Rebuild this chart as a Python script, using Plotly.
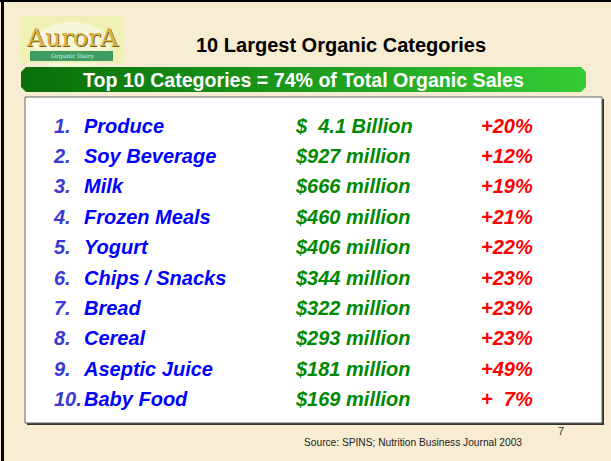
import plotly.graph_objects as go

# table data
ranks = ["1.", "2.", "3.", "4.", "5.", "6.", "7.", "8.", "9.", "10."]
categories = ["Produce", "Soy Beverage", "Milk", "Frozen Meals", "Yogurt",
              "Chips / Snacks", "Bread", "Cereal", "Aseptic Juice", "Baby Food"]
sales = ["$\u00a0\u00a04.1 Billion", "$927 million", "$666 million", "$460 million",
         "$406 million", "$344 million", "$322 million", "$293 million",
         "$181 million", "$169 million"]
growth = [20, 12, 19, 21, 22, 23, 23, 23, 49, 7]

title = "10 Largest Organic Categories"
banner = "Top 10 Categories = 74% of Total Organic Sales"
source = "Source: SPINS; Nutrition Business Journal 2003"
page_no = "7"

W, H = 611, 461
ROW1, STEP = 127.5, 30.4   # pixel centre of first row, row pitch
BG = "#f8ecd2"
FONT = "Liberation Sans, Arial, sans-serif"

growth_txt = [f"+{g}%" if g >= 10 else f"+\u00a0\u00a0{g}%" for g in growth]
row_pos = list(range(1, len(categories) + 1))

fig = go.Figure()


def col(texts, x, color, pos="middle right"):
    fig.add_trace(go.Scatter(
        x=[x] * len(texts), y=row_pos, text=texts, mode="text",
        textposition=pos, xaxis="x", yaxis="y2",
        textfont=dict(family=FONT, size=20, color=color, weight="bold", style="italic"),
        hoverinfo="skip", showlegend=False,
    ))


# green banner with horizontal gradient, rounded corners
bx0, bx1, by0, by1, r = 21, 586, 67, 92, 5
fig.add_trace(go.Scatter(
    x=[bx0 + r, bx1 - r, bx1, bx1, bx1 - r, bx0 + r, bx0, bx0, bx0 + r],
    y=[by0, by0, by0 + r, by1 - r, by1, by1, by1 - r, by0 + r, by0],
    mode="lines", line=dict(width=0), fill="toself",
    fillgradient=dict(type="horizontal",
                      colorscale=[[0, "#0a6f0a"], [0.5, "#1c9a1c"], [1, "#36cc36"]]),
    hoverinfo="skip", showlegend=False,
))

col(ranks, 54, "#3a3ad2")
col(categories, 84, "#0000ff")
col(sales, 296, "#008800")
col(growth_txt, 481, "#ff0000")

shapes = [
    # frame
    dict(type="rect", x0=0, x1=W, y0=0, y1=2, fillcolor="#000", line_width=0),
    dict(type="rect", x0=1, x1=4, y0=0, y1=H, fillcolor="#000", line_width=0),
    # table box with shadow
    dict(type="rect", x0=27, x1=604, y0=99, y1=425, fillcolor="#333", line_width=0, layer="below"),
    dict(type="rect", x0=25, x1=602, y0=97, y1=423, fillcolor="white",
         line=dict(color="#666", width=1), layer="below"),
    # logo
    dict(type="rect", x0=20, x1=123, y0=16, y1=63, fillcolor="#eef0b4", line_width=0, layer="below"),
    dict(type="circle", x0=34, x1=110, y0=22, y1=70, fillcolor="#f8f6d8", line_width=0, layer="below"),
    dict(type="rect", x0=20, x1=123, y0=50, y1=63, fillcolor="#eef0b4", line_width=0, layer="below"),
    dict(type="rect", x0=30, x1=113, y0=51, y1=61, fillcolor="#3f9d63", line_width=0, layer="below"),
]

annotations = [
    dict(text="<b>" + title + "</b>", x=341, y=45, xref="x", yref="y", showarrow=False,
         font=dict(family=FONT, size=20, color="black")),
    dict(text="<b>" + banner + "</b>", x=303, y=80, xref="x", yref="y", showarrow=False,
         font=dict(family=FONT, size=19.6, color="white")),
    dict(text=source, x=413, y=442, xref="x", yref="y", showarrow=False,
         font=dict(family=FONT, size=10.2, color="#222")),
    dict(text=page_no, x=561, y=431, xref="x", yref="y", showarrow=False,
         font=dict(family=FONT, size=11, color="#333")),
    dict(text="AurorA", x=72, y=37, xref="x", yref="y", showarrow=False,
         font=dict(family="DejaVu Serif, serif", size=25, color="#d9b448",
                   shadow="1px 1px 0px #7a5a18")),
    dict(text="Organic Dairy", x=72, y=56, xref="x", yref="y", showarrow=False,
         font=dict(family="DejaVu Serif, serif", size=6, color="#d8eed8")),
]

fig.update_layout(
    width=W, height=H,
    margin=dict(l=0, r=0, t=0, b=0),
    paper_bgcolor=BG, plot_bgcolor=BG,
    xaxis=dict(range=[0, W], visible=False, fixedrange=True),
    yaxis=dict(range=[H, 0], visible=False, fixedrange=True),
    yaxis2=dict(range=[1 + (H - ROW1) / STEP, 1 - ROW1 / STEP], overlaying="y",
                visible=False, fixedrange=True),
    shapes=shapes,
    annotations=annotations,
)

fig.write_html("out.html", config={"displayModeBar": False},
               post_script="document.body.style.margin='0';document.body.style.overflow='hidden';")
